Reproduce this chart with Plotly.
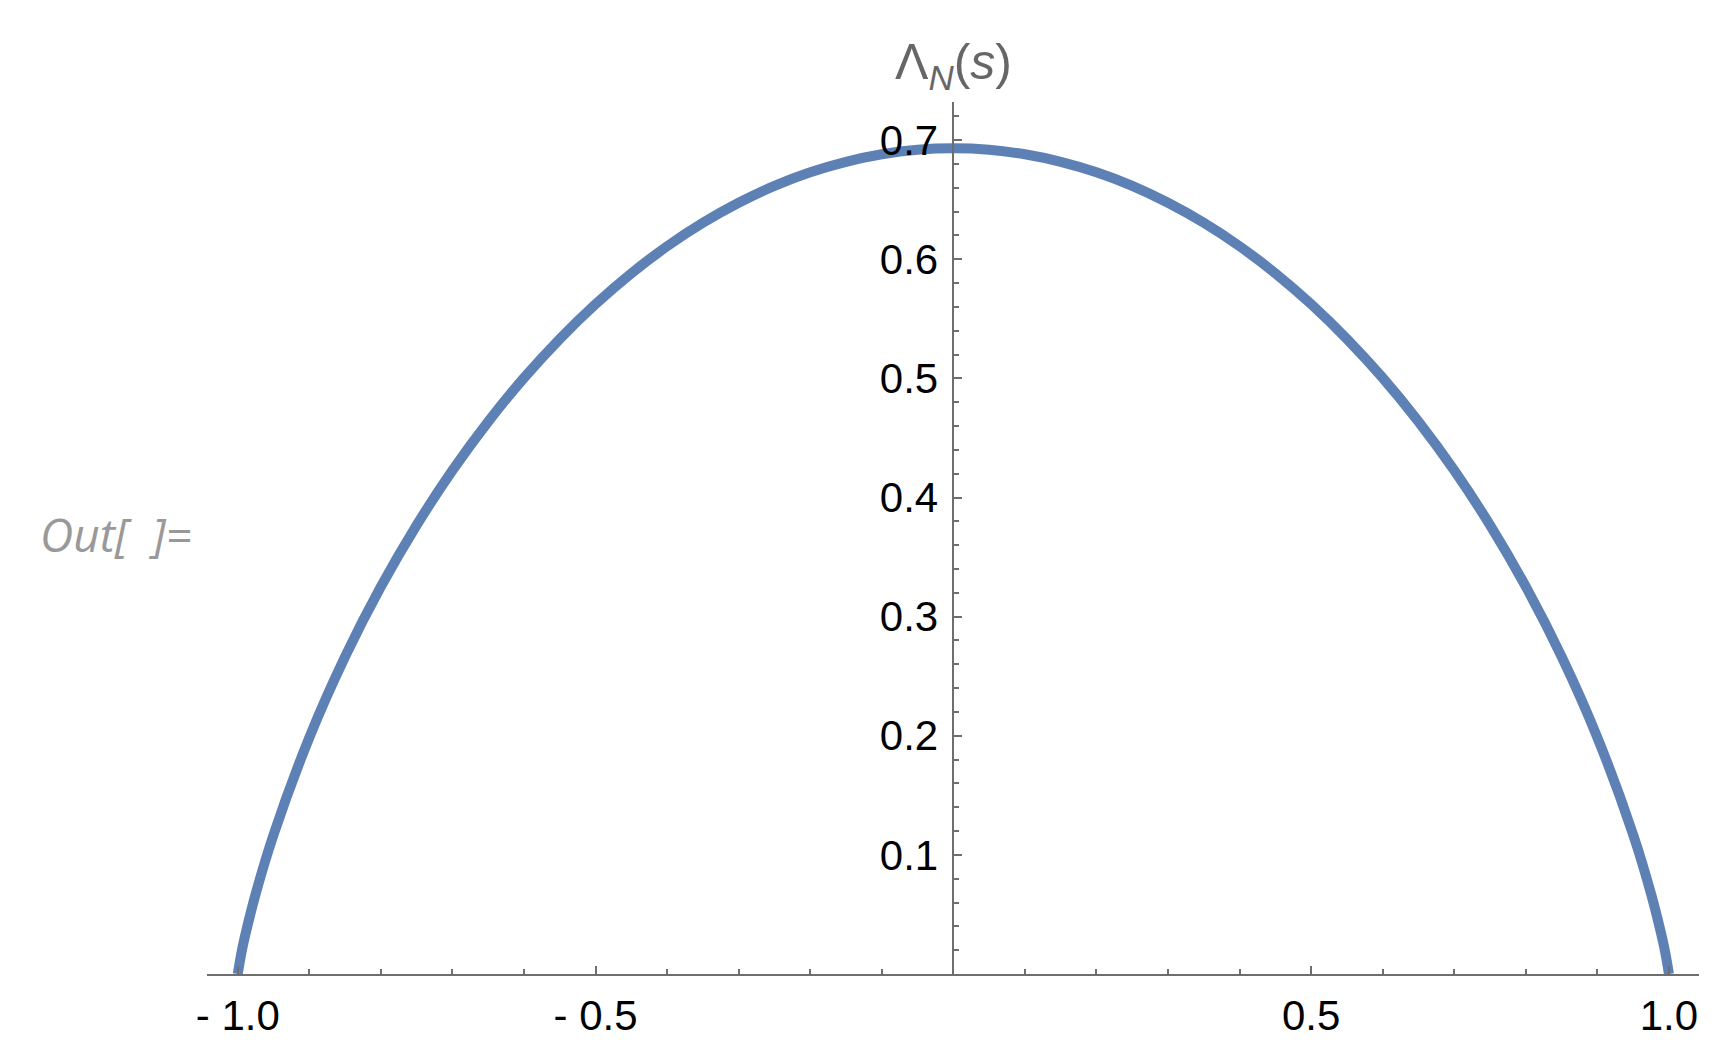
import plotly.graph_objects as go

# values (right half; curve is symmetric)
s_right = [0.0, 0.05, 0.1, 0.15, 0.2, 0.25, 0.3, 0.35, 0.4, 0.45, 0.5, 0.55, 0.6,
           0.65, 0.7, 0.75, 0.8, 0.85, 0.9, 0.95, 0.975, 0.99, 0.995, 1.0]
lam_right = [0.6931, 0.6919, 0.6881, 0.6818, 0.6730, 0.6616, 0.6474, 0.6306, 0.6109,
             0.5882, 0.5623, 0.5331, 0.5004, 0.4637, 0.4227, 0.3768, 0.3251, 0.2664,
             0.1985, 0.1169, 0.0672, 0.0315, 0.0175, 0.0]

s_vals = [-v for v in s_right[::-1]] + s_right[1:]
lam_vals = lam_right[::-1] + lam_right[1:]

x_tick_vals = [-1.0, -0.5, 0.5, 1.0]
x_tick_text = ["- 1.0", "- 0.5", "0.5", "1.0"]
y_tick_vals = [0.1, 0.2, 0.3, 0.4, 0.5, 0.6, 0.7]
y_tick_text = ["0.1", "0.2", "0.3", "0.4", "0.5", "0.6", "0.7"]

# page has an 8px body margin
OFF = 8
W, H = 1735 - 2 * OFF, 1059 - 2 * OFF
L, T = 207 - OFF, 102 - OFF
PW, PH = 1699 - 207, 977 - 102
R = W - L - PW
B = H - T - PH


def px_to_paper_x(px):
    return (px - OFF - L) / PW


def px_to_paper_y(py):
    return (T + PH - (py - OFF)) / PH


fig = go.Figure()
fig.add_trace(go.Scatter(x=s_vals, y=lam_vals, mode="lines",
                         line=dict(color="#5E81B5", width=10, shape="spline"),
                         hoverinfo="skip", cliponaxis=False))

axis_col = "#6e6e6e"
fig.update_layout(
    width=W, height=H,
    margin=dict(l=L, r=R, t=T, b=B),
    paper_bgcolor="white", plot_bgcolor="white",
    showlegend=False,
    font=dict(family="Liberation Sans, Arial, sans-serif", size=42, color="black"),
    xaxis=dict(range=[-1.043, 1.042], showgrid=False, zeroline=False,
               showline=True, linecolor=axis_col, linewidth=1.5,
               tickvals=x_tick_vals, ticktext=x_tick_text,
               ticks="inside", ticklen=8, tickcolor=axis_col, tickwidth=1.5,
               minor=dict(ticks="inside", dtick=0.1, tick0=0, ticklen=5,
                          tickcolor=axis_col, tickwidth=1.5),
               tickfont=dict(size=42, color="black"),
               ticklabelstandoff=4),
    yaxis=dict(range=[0, 0.732], showgrid=False, zeroline=False,
               showline=True, linecolor=axis_col, linewidth=1.5,
               anchor="free", position=(0 + 1.043) / (1.043 + 1.042), side="left",
               tickvals=y_tick_vals, ticktext=y_tick_text,
               ticks="inside", ticklen=8, tickcolor=axis_col, tickwidth=1.5,
               minor=dict(ticks="inside", dtick=0.02, tick0=0, ticklen=5,
                          tickcolor=axis_col, tickwidth=1.5),
               tickfont=dict(size=42, color="black"),
               ticklabelstandoff=6),
)

fig.add_annotation(x=0, xref="x", y=px_to_paper_y(99), yref="paper",
                   yanchor="bottom", xanchor="center", showarrow=False,
                   text="Λ<sub><i>N</i></sub>(<i>s</i>)",
                   font=dict(size=50, color="#666666",
                             family="Liberation Sans, Arial, sans-serif"))

fig.add_annotation(x=px_to_paper_x(38), xref="paper", y=px_to_paper_y(535), yref="paper",
                   xanchor="left", yanchor="middle", showarrow=False,
                   text="<i>Out[  ]=</i>",
                   font=dict(size=46, color="#999999",
                             family="Open Sans, sans-serif"))

fig.write_html("out.html")
